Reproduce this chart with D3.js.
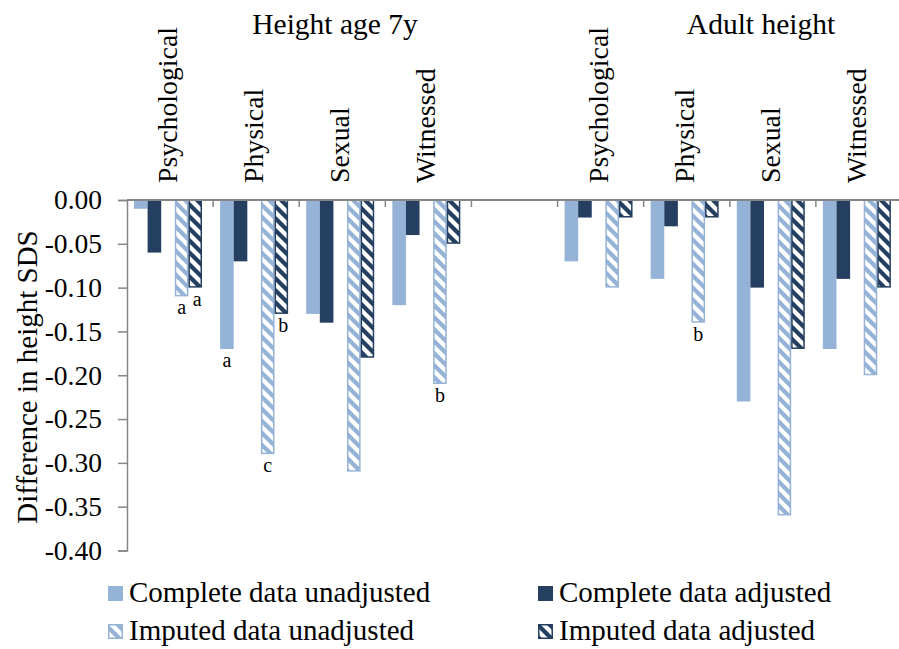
<!DOCTYPE html>
<html>
<head>
<meta charset="utf-8">
<script src="https://cdn.jsdelivr.net/npm/d3@7"></script>
</head>
<body style="margin:0">
<svg id="chart" width="899" height="649"></svg>
<script>
// Abuse types within each outcome group
const categories = ["Psychological", "Physical", "Sexual", "Witnessed"];
const groups = ["Height age 7y", "Adult height"];

// Difference in height SDS, one array per series, 7y values then adult values
const completeUnadjusted = [-0.01, -0.17, -0.13, -0.12,   -0.07, -0.09, -0.23, -0.17];
const completeAdjusted   = [-0.06, -0.07, -0.14, -0.04,   -0.02, -0.03, -0.10, -0.09];
const imputedUnadjusted  = [-0.11, -0.29, -0.31, -0.21,   -0.10, -0.14, -0.36, -0.20];
const imputedAdjusted    = [-0.10, -0.13, -0.18, -0.05,   -0.02, -0.02, -0.17, -0.10];

const seriesNames = ["Complete data unadjusted", "Complete data adjusted",
                     "Imputed data unadjusted", "Imputed data adjusted"];

const yTicks = [0, -0.05, -0.10, -0.15, -0.20, -0.25, -0.30, -0.35, -0.40];

// Significance letters: [group index, category index, series index, letter]
const markers = [
  [0, 0, 2, "a"], [0, 0, 3, "a"],
  [0, 1, 0, "a"], [0, 1, 2, "c"], [0, 1, 3, "b"],
  [0, 3, 2, "b"],
  [1, 1, 2, "b"]
];

const seriesValues = [completeUnadjusted, completeAdjusted, imputedUnadjusted, imputedAdjusted];
const lightBlue = "#95b3d7";
const navy = "#243f60";
const seriesStyle = [
  { color: lightBlue, hatched: false },
  { color: navy, hatched: false },
  { color: lightBlue, hatched: true },
  { color: navy, hatched: true }
];

const serif = "'Liberation Serif', 'Times New Roman', Times, serif";
const svg = d3.select("#chart");

function serifText(sel, size) {
  return sel.attr("font-family", serif).attr("font-size", size)
    .style("font-family", serif).style("font-size", size + "px");
}

// Clip a convex polygon to an axis-aligned rectangle
function clipToRect(poly, x0, y0, x1, y1) {
  const edges = [
    [p => p[0] >= x0, (a, b) => { const t = (x0 - a[0]) / (b[0] - a[0]); return [x0, a[1] + t * (b[1] - a[1])]; }],
    [p => p[0] <= x1, (a, b) => { const t = (x1 - a[0]) / (b[0] - a[0]); return [x1, a[1] + t * (b[1] - a[1])]; }],
    [p => p[1] >= y0, (a, b) => { const t = (y0 - a[1]) / (b[1] - a[1]); return [a[0] + t * (b[0] - a[0]), y0]; }],
    [p => p[1] <= y1, (a, b) => { const t = (y1 - a[1]) / (b[1] - a[1]); return [a[0] + t * (b[0] - a[0]), y1]; }]
  ];
  let out = poly;
  for (const [inside, cut] of edges) {
    const input = out; out = [];
    for (let i = 0; i < input.length; i++) {
      const cur = input[i], prev = input[(i + input.length - 1) % input.length];
      if (inside(cur)) {
        if (!inside(prev)) out.push(cut(prev, cur));
        out.push(cur);
      } else if (inside(prev)) out.push(cut(prev, cur));
    }
    if (!out.length) break;
  }
  return out;
}

// Wide downward-diagonal stripes filling a rectangle
const period = 12, band = 6;
function hatchPaths(x0, y0, x1, y1) {
  const paths = [];
  const cMin = Math.floor((y0 - x1 - band) / period) * period;
  for (let c = cMin; c <= y1 - x0; c += period) {
    const X0 = x0 - 30, X1 = x1 + 30;
    const poly = [[X0, X0 + c], [X1, X1 + c], [X1, X1 + c + band], [X0, X0 + c + band]];
    const clipped = clipToRect(poly, x0, y0, x1, y1);
    if (clipped.length > 2) paths.push("M" + clipped.map(p => p.join(",")).join("L") + "Z");
  }
  return paths.join("");
}

// Slots along the axis: four categories, an empty slot, four categories
const slots = [];
groups.forEach((g, gi) => {
  categories.forEach((c, ci) => slots.push({ key: gi + "-" + ci, gi, ci, label: c }));
  if (gi === 0) slots.push({ key: "spacer" });
});

const x = d3.scaleBand().domain(slots.map(s => s.key)).range([127, 902]).padding(0);
// Within a category: four bars with an empty position between complete and imputed
const inner = d3.scaleBand().domain(["s0", "s1", "gap", "s2", "s3"]).range([7, 75]).padding(0);
const y = d3.scaleLinear().domain([0, -0.40]).range([200, 550.5]);

const axisColor = "#868686";

// Y axis line and ticks
const yAxis = d3.axisLeft(y).tickValues(yTicks).tickSize(9).tickFormat("");
const gy = svg.append("g").attr("transform", "translate(127,0)").call(yAxis);
gy.select(".domain").attr("stroke", axisColor).attr("stroke-width", 1.5);
gy.selectAll(".tick line").attr("stroke", axisColor).attr("stroke-width", 1.5);

// Y tick labels
serifText(svg.append("g").selectAll("text")
  .data(yTicks)
  .join("text")
  .attr("x", 102)
  .attr("y", d => y(d))
  .attr("dy", "0.34em")
  .attr("text-anchor", "end")
  .attr("fill", "#000"), 27.5)
  .text(d => (Math.abs(d) < 1e-9 ? 0 : d).toFixed(2));

// Bars
const barData = [];
slots.filter(s => s.key !== "spacer").forEach(s => {
  const idx = s.gi * categories.length + s.ci;
  seriesValues.forEach((vals, si) => {
    barData.push({ slot: s.key, si, value: vals[idx] });
  });
});
const bx0 = d => x(d.slot) + inner("s" + d.si);
const bars = svg.append("g").selectAll("g").data(barData).join("g");
bars.filter(d => !seriesStyle[d.si].hatched).append("rect")
  .attr("x", bx0)
  .attr("y", y(0))
  .attr("width", inner.bandwidth())
  .attr("height", d => y(d.value) - y(0))
  .attr("fill", d => seriesStyle[d.si].color);
const hatched = bars.filter(d => seriesStyle[d.si].hatched);
hatched.append("rect")
  .attr("x", d => bx0(d) + 0.75)
  .attr("y", y(0))
  .attr("width", inner.bandwidth() - 1.5)
  .attr("height", d => y(d.value) - y(0) - 0.75)
  .attr("fill", "#fff");
hatched.append("path")
  .attr("d", d => hatchPaths(bx0(d) + 0.75, y(0), bx0(d) + inner.bandwidth() - 0.75, y(d.value) - 0.75))
  .attr("fill", d => seriesStyle[d.si].color);
hatched.append("rect")
  .attr("x", d => bx0(d) + 0.75)
  .attr("y", y(0))
  .attr("width", inner.bandwidth() - 1.5)
  .attr("height", d => y(d.value) - y(0) - 0.75)
  .attr("fill", "none")
  .attr("stroke", d => seriesStyle[d.si].color)
  .attr("stroke-width", 1.5);

// Zero line along the top with category tick marks
svg.append("line")
  .attr("x1", 127).attr("x2", 902).attr("y1", y(0)).attr("y2", y(0))
  .attr("stroke", axisColor).attr("stroke-width", 2);
svg.append("g").selectAll("line")
  .data(slots.slice(1))
  .join("line")
  .attr("x1", d => x(d.key)).attr("x2", d => x(d.key))
  .attr("y1", y(0)).attr("y2", y(0) + 7)
  .attr("stroke", axisColor).attr("stroke-width", 1.5);

// Category labels, rotated, reading upward from just above the zero line
serifText(svg.append("g").selectAll("text")
  .data(slots.filter(s => s.key !== "spacer"))
  .join("text")
  .attr("transform", d => `translate(${x(d.key) + x.bandwidth() / 2 + 7},183) rotate(-90)`)
  .attr("text-anchor", "start"), 27.8)
  .text(d => d.label);

// Group titles
serifText(svg.append("g").selectAll("text")
  .data(groups)
  .join("text")
  .attr("x", (d, i) => i === 0 ? 335 : 761)
  .attr("y", 34)
  .attr("text-anchor", "middle"), 29.5)
  .text(d => d);

// Significance letters under bars
serifText(svg.append("g").selectAll("text")
  .data(markers)
  .join("text")
  .attr("x", d => x(d[0] + "-" + d[1]) + inner("s" + d[2]) + inner.bandwidth() / 2 + (d[2] === 3 ? 2 : 0))
  .attr("y", d => y(seriesValues[d[2]][d[0] * categories.length + d[1]]) + 18)
  .attr("text-anchor", "middle"), 20)
  .text(d => d[3]);

// Y axis title
serifText(svg.append("text")
  .attr("transform", "translate(37,377) rotate(-90)")
  .attr("text-anchor", "middle"), 29)
  .text("Difference in height SDS");

// Legend
const legendX = [108, 538], legendY = [586, 624];
const legendItems = seriesNames.map((name, i) => ({
  name, i, lx: legendX[i % 2], ly: legendY[Math.floor(i / 2)]
}));
const lg = svg.append("g");
lg.selectAll("rect.solid")
  .data(legendItems.filter(d => !seriesStyle[d.i].hatched))
  .join("rect")
  .attr("x", d => d.lx).attr("y", d => d.ly)
  .attr("width", 15).attr("height", 15)
  .attr("fill", d => seriesStyle[d.i].color);
const lh = legendItems.filter(d => seriesStyle[d.i].hatched);
lg.selectAll("path.hatch")
  .data(lh)
  .join("path")
  .attr("d", d => hatchPaths(d.lx + 0.75, d.ly + 0.75, d.lx + 14.25, d.ly + 14.25))
  .attr("fill", d => seriesStyle[d.i].color);
lg.selectAll("rect.outline")
  .data(lh)
  .join("rect")
  .attr("x", d => d.lx + 0.75).attr("y", d => d.ly + 0.75)
  .attr("width", 13.5).attr("height", 13.5)
  .attr("fill", "none")
  .attr("stroke", d => seriesStyle[d.i].color)
  .attr("stroke-width", 1.5);
serifText(lg.selectAll("text")
  .data(legendItems)
  .join("text")
  .attr("x", d => d.lx + 21)
  .attr("y", d => d.ly + 16), 29)
  .text(d => d.name);
</script>
</body>
</html>
